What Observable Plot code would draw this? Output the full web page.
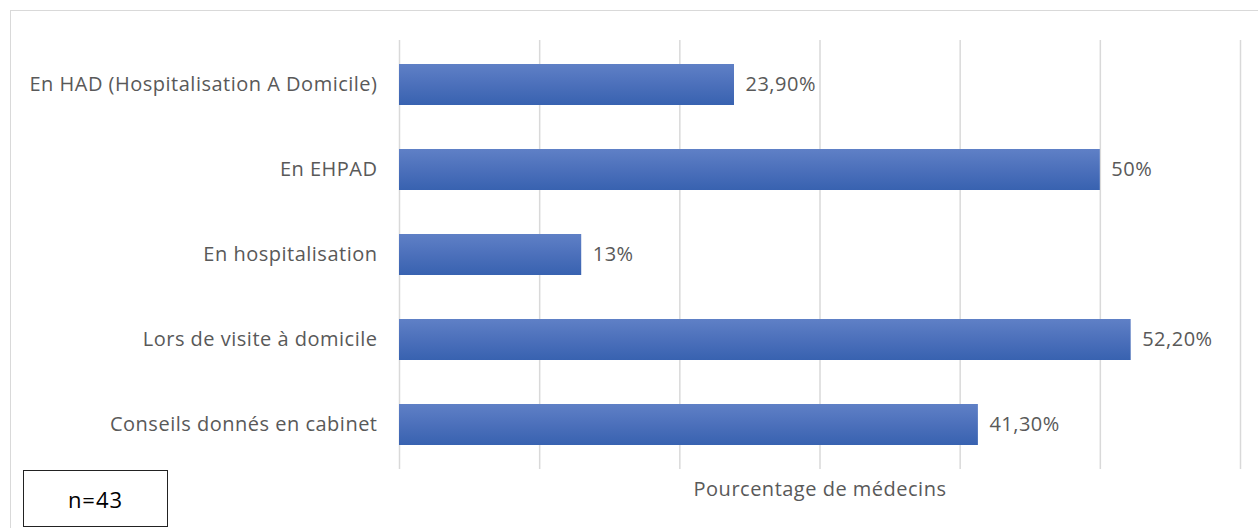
<!DOCTYPE html>
<html>
<head>
<meta charset="utf-8">
<script src="https://cdn.jsdelivr.net/npm/d3@7"></script>
<script src="https://cdn.jsdelivr.net/npm/@observablehq/plot@0.6"></script>
<style>
  html, body { margin: 0; padding: 0; background: #fff; overflow: hidden; }
  #wrap { position: relative; width: 1258px; height: 528px; overflow: hidden; }
  #border { position: absolute; left: 10px; top: 10px; width: 1400px; height: 700px;
            border: 1.5px solid #d9d9d9; box-sizing: border-box; }
  #chart { position: absolute; left: 0; top: 0; }
  #nbox { position: absolute; left: 23px; top: 470px; width: 145px; height: 57px;
          box-sizing: border-box; border: 1.5px solid #222; background: #fff;
          font-family: "Open Sans", sans-serif; font-size: 22px; letter-spacing: 1px; color: #000;
          display: flex; align-items: center; justify-content: center; }
</style>
</head>
<body>
<div id="wrap">
  <div id="border"></div>
  <div id="chart"></div>
  <div id="nbox">n=43</div>
</div>
<script>
const categories = [
  "En HAD (Hospitalisation A Domicile)",
  "En EHPAD",
  "En hospitalisation",
  "Lors de visite à domicile",
  "Conseils donnés en cabinet"
];
const values = [23.9, 50, 13, 52.2, 41.3];
const valueLabels = ["23,90%", "50%", "13%", "52,20%", "41,30%"];
const xLabel = "Pourcentage de médecins";

const data = categories.map((c, i) => ({cat: c, v: values[i], lab: valueLabels[i]}));

const defs = () => {
  const ns = "http://www.w3.org/2000/svg";
  const d = document.createElementNS(ns, "defs");
  const g = document.createElementNS(ns, "linearGradient");
  g.setAttribute("id", "barGrad");
  g.setAttribute("x1", "0"); g.setAttribute("y1", "0");
  g.setAttribute("x2", "0"); g.setAttribute("y2", "1");
  [["0%", "#5f80c6"], ["50%", "#4c70bb"], ["100%", "#3862b0"]].forEach(([o, c]) => {
    const s = document.createElementNS(ns, "stop");
    s.setAttribute("offset", o); s.setAttribute("stop-color", c);
    g.appendChild(s);
  });
  d.appendChild(g);
  const f = document.createElementNS(ns, "filter");
  f.setAttribute("id", "shadow");
  f.setAttribute("x", "-5%"); f.setAttribute("y", "-20%");
  f.setAttribute("width", "110%"); f.setAttribute("height", "160%");
  f.innerHTML = '<feDropShadow dx="1" dy="3" stdDeviation="2.5" flood-color="#000" flood-opacity="0.35"/>';
  d.appendChild(f);
  return d;
};

const font = "'Open Sans', sans-serif";
const fs = 20;

const chart = Plot.plot({
  width: 1258,
  height: 528,
  marginLeft: 399,
  marginRight: 18,
  marginTop: 40,
  marginBottom: 59,
  style: { fontFamily: font, fontSize: fs + "px", letterSpacing: "0.5px", color: "#595959", background: "transparent" },
  x: { domain: [0, 60] },
  y: { domain: categories, paddingInner: 0.52, paddingOuter: 0.26 },
  marks: [
    defs,
    Plot.gridX({ interval: 10, stroke: "#d9d9d9", strokeOpacity: 1, strokeWidth: 1.5 }),
    Plot.barX(data, { y: "cat", x: "v", fill: "url(#barGrad)",
      style: "filter:url(#shadow)" }),
    Plot.text(data, { y: "cat", x: "v", text: "lab", textAnchor: "start", dx: 11,
      fill: "#595959", fontSize: fs }),
    Plot.axisY({ tickSize: 0, tickPadding: 22, label: null, fontSize: fs }),
    Plot.axisX({ ticks: [], label: null }),
    Plot.text([xLabel], { frameAnchor: "bottom", dy: 26, fill: "#595959", fontSize: fs })
  ]
});
document.getElementById("chart").appendChild(chart);
</script>
</body>
</html>
